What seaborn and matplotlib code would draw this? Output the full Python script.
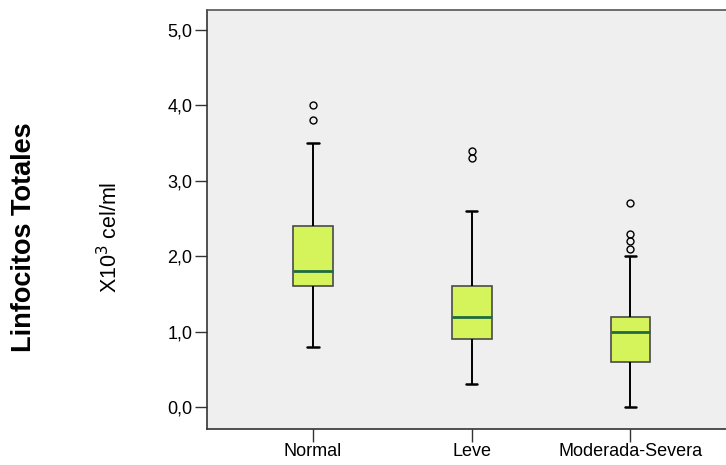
import pandas as pd
import matplotlib
matplotlib.use("Agg")
import matplotlib.pyplot as plt
import seaborn as sns

groups = ["Normal", "Leve", "Moderada-Severa"]
normal = [0.8, 1.2, 1.6, 1.6, 1.7, 1.8, 1.8, 2.0, 2.4, 2.4, 3.5, 3.8, 4.0]
leve = [0.3, 0.6, 0.8, 0.9, 1.0, 1.1, 1.2, 1.3, 1.5, 1.6, 2.6, 3.3, 3.4]
mod_sev = [0.0, 0.2, 0.3, 0.4, 0.5, 0.6, 0.7, 0.8, 0.9, 0.9, 1.0,
           1.0, 1.1, 1.1, 1.2, 1.2, 2.0, 2.1, 2.2, 2.3, 2.7]
y_ticks = [0, 1, 2, 3, 4, 5]
y_ticklabels = ["0,0", "1,0", "2,0", "3,0", "4,0", "5,0"]

df = pd.DataFrame({
    "grupo": [groups[0]] * len(normal) + [groups[1]] * len(leve) + [groups[2]] * len(mod_sev),
    "valor": normal + leve + mod_sev,
})

sns.set_style("white")
plt.rcParams["font.family"] = ["Liberation Sans", "DejaVu Sans"]
plt.rcParams["text.color"] = "black"
plt.rcParams["xtick.color"] = "black"
plt.rcParams["ytick.color"] = "black"

fig = plt.figure(figsize=(7.26, 4.65), dpi=100)
ax = fig.add_axes([207 / 726, 36.5 / 465, 529.5 / 726, 418.5 / 465])
ax.set_facecolor("#efefef")

sns.boxplot(data=df, x="grupo", y="valor", order=groups, ax=ax,
            width=0.25, whis=1.5, saturation=1, color="#d5f35b",
            linewidth=1.2,
            boxprops=dict(facecolor="#d5f35b", edgecolor="#4a4a4a"),
            medianprops=dict(color="#1f6b3f", linewidth=2),
            whiskerprops=dict(color="black", linewidth=1.4),
            capprops=dict(color="black", linewidth=1.8),
            flierprops=dict(marker="o", markerfacecolor="none",
                            markeredgecolor="black", markersize=5,
                            markeredgewidth=1),
            capwidths=0.07)

ax.set_xlim(-0.668, 2.668)
ax.set_ylim(-0.285, 5.265)
ax.set_yticks(y_ticks)
ax.set_yticklabels(y_ticklabels, fontsize=13)
ax.tick_params(axis="x", labelsize=13)
ax.tick_params(axis="both", direction="out", length=9, width=1,
               color="#333333", labelcolor="black", pad=1.5,
               left=True, bottom=True)
ax.set_xlabel("")
ax.set_ylabel("")
for side in ["left", "bottom", "top"]:
    ax.spines[side].set_color("#333333")
    ax.spines[side].set_linewidth(1.2)
ax.spines["top"].set_color("#555555")
ax.spines["right"].set_visible(False)

fig.text(24 / 726, 1 - 237 / 465, "Linfocitos Totales", rotation=90,
         fontsize=19.5, fontweight="bold", ha="center", va="center",
         color="black")
fig.text(110 / 726, 1 - 237 / 465, "X10$^3$ cel/ml", rotation=90,
         fontsize=15.5, ha="center", va="center", color="black")

fig.savefig("out.png", dpi=100)
